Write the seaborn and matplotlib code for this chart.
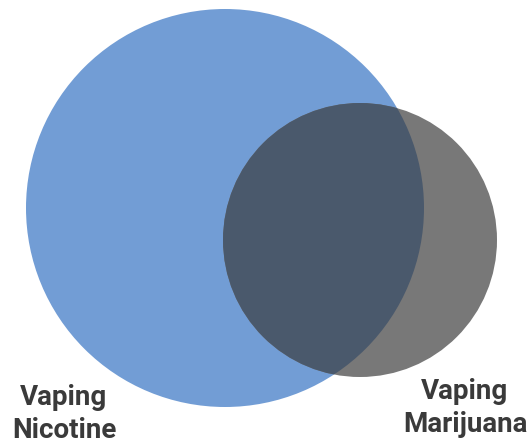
import matplotlib
matplotlib.use("Agg")
import matplotlib.pyplot as plt
import seaborn as sns
from matplotlib.patches import Circle

# Data (pixel layout)
set_labels = ["Vaping\nNicotine", "Vaping\nMarijuana"]
centers_x = [225, 360]
centers_y = [208, 240]
radii = [199, 137]
set_colors = ["#729dd5", "#787878"]
overlap_color = "#4a596c"
label_x = [64, 465]
label_y = [414, 408]

sns.set_theme(style="white")
plt.rcParams["font.family"] = ["Roboto", "DejaVu Sans"]

W, H = 529, 443
fig = plt.figure(figsize=(W / 100, H / 100), dpi=100)
ax = fig.add_axes([0, 0, 1, 1])
ax.set_xlim(0, W)
ax.set_ylim(H, 0)
ax.set_aspect("equal")
ax.axis("off")

c1 = Circle((centers_x[0], centers_y[0]), radii[0], color=set_colors[0], lw=0)
c2 = Circle((centers_x[1], centers_y[1]), radii[1], color=set_colors[1], lw=0)
ax.add_patch(c1)
ax.add_patch(c2)
c3 = Circle((centers_x[0], centers_y[0]), radii[0], color=overlap_color, lw=0)
ax.add_patch(c3)
clip = Circle((centers_x[1], centers_y[1]), radii[1], transform=ax.transData)
c3.set_clip_path(clip)

for lab, x, y in zip(set_labels, label_x, label_y):
    ax.text(x, y, lab, ha="center", va="center", fontsize=20, fontweight="bold",
            color="#3a3a3a", linespacing=1.25)

fig.savefig("out.png", dpi=100)
